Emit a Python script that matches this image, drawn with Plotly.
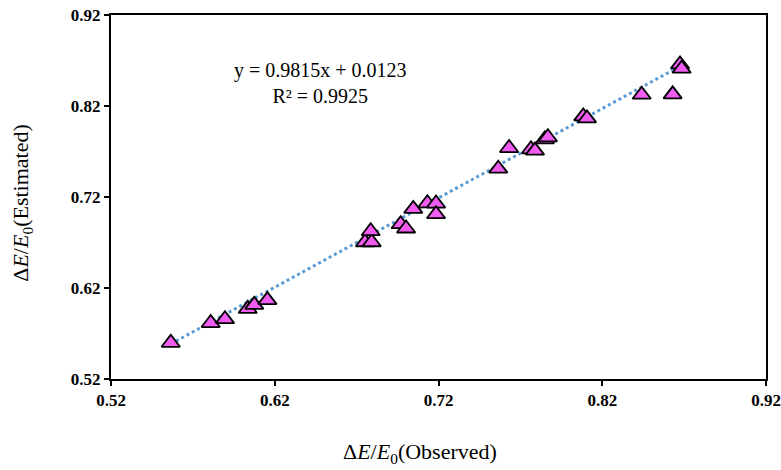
import numpy as np
import plotly.graph_objects as go

observed = [0.5565, 0.5809, 0.5896, 0.6035, 0.6075, 0.6155,
            0.6751, 0.6792, 0.6786, 0.6969, 0.7002, 0.7046, 0.7132, 0.7185, 0.7185,
            0.7565, 0.7631, 0.7765, 0.7789, 0.7850, 0.7868,
            0.8084, 0.8107, 0.8441, 0.8630, 0.8675, 0.8685]
estimated = [0.5598, 0.5815, 0.5858, 0.5971, 0.6015, 0.6067,
             0.6703, 0.6703, 0.6824, 0.6901, 0.6854, 0.7069, 0.7131, 0.7128, 0.7011,
             0.7512, 0.7738, 0.7724, 0.7710, 0.7834, 0.7856,
             0.8086, 0.8064, 0.8324, 0.8328, 0.8657, 0.8610]
slope = 0.9815
intercept = 0.0123
r2 = 0.9925
ticks = [0.52, 0.62, 0.72, 0.82, 0.92]
x_title = "Δ<i>E</i>/<i>E</i><sub>0</sub>(Observed)"
y_title = "Δ<i>E</i>/<i>E</i><sub>0</sub>(Estimated)"

xs = np.array([min(observed), max(observed)])
ys = slope * xs + intercept

font_family = "Liberation Serif, Times New Roman, serif"

fig = go.Figure()
fig.add_trace(go.Scatter(x=xs, y=ys, mode="lines",
                         line=dict(color="#5B9BD5", width=3, dash="dot"),
                         hoverinfo="skip", showlegend=False))
fig.add_trace(go.Scatter(x=observed, y=estimated, mode="markers",
                         marker=dict(symbol="triangle-up", size=16, color="#F05CF0",
                                     line=dict(color="black", width=1.8)),
                         showlegend=False))

fig.add_annotation(text=f"y = {slope}x + {intercept}<br>R² = {r2}",
                   x=0.6482, y=0.8448, xref="x", yref="y", showarrow=False,
                   font=dict(family=font_family, size=20, color="black"),
                   align="center")

fig.add_annotation(text=x_title, xref="paper", yref="paper", x=0.4725, y=-0.203,
                   xanchor="center", yanchor="middle", showarrow=False,
                   font=dict(family=font_family, size=22, color="black"))
fig.add_annotation(text=y_title, xref="paper", yref="paper", x=-0.135, y=0.483,
                   xanchor="center", yanchor="middle", showarrow=False, textangle=-90,
                   font=dict(family=font_family, size=22, color="black"))

axis_common = dict(range=[0.52, 0.92], tickvals=ticks,
                   ticktext=[f"{t:.2f}" for t in ticks],
                   showgrid=False, zeroline=False,
                   showline=True, linecolor="black", linewidth=2, mirror=True,
                   ticks="outside", ticklen=5, tickwidth=2, tickcolor="black",
                   tickfont=dict(family=font_family, size=17, color="black", weight="bold"))

fig.update_xaxes(**axis_common)
fig.update_yaxes(**axis_common)

fig.update_layout(width=781, height=470,
                  margin=dict(l=111, r=15, t=15, b=91, autoexpand=False),
                  paper_bgcolor="white", plot_bgcolor="white")

fig.write_html("out.html", config={"displayModeBar": False},
               post_script="document.body.style.margin='0';document.body.style.overflow='hidden';")
